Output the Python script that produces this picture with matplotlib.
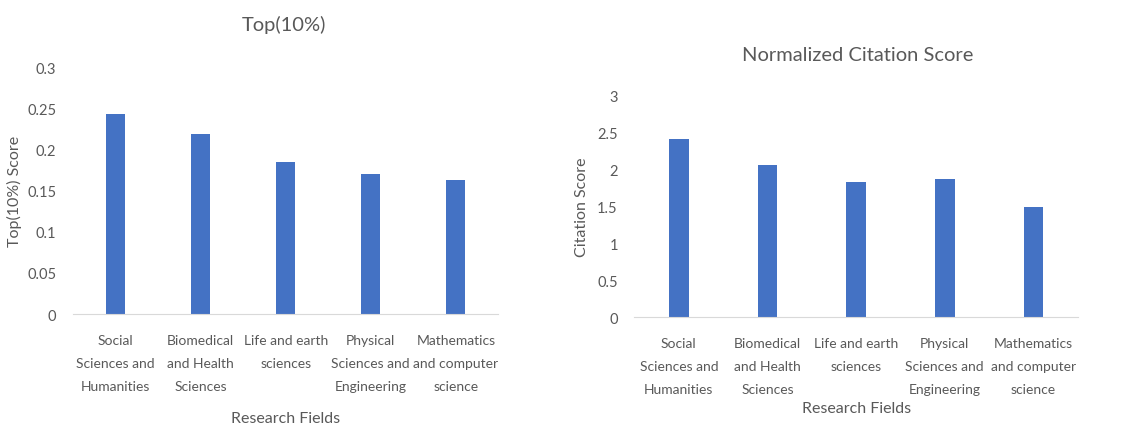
import matplotlib.pyplot as plt

plt.rcParams['font.family'] = ['Lato', 'DejaVu Sans']

fields = ["Social\nSciences and\nHumanities",
          "Biomedical\nand Health\nSciences",
          "Life and earth\nsciences",
          "Physical\nSciences and\nEngineering",
          "Mathematics\nand computer\nscience"]
top10 = [0.243, 0.219, 0.185, 0.170, 0.163]
citation = [2.41, 2.05, 1.82, 1.86, 1.49]

bar_color = '#4472C4'
text_color = '#595959'

fig = plt.figure(figsize=(11.25, 4.31), dpi=100)
ax1 = fig.add_axes([0.065, 0.269, 0.378, 0.573])
ax2 = fig.add_axes([0.564, 0.262, 0.394, 0.515])

def style(ax, values, ymax, step, ylabel, ypad, xpad):
    x = range(len(values))
    ax.bar(x, values, width=0.22, color=bar_color)
    ax.set_xlim(-0.5, len(values) - 0.5)
    ax.set_ylim(0, ymax)
    ticks = [round(i * step, 2) for i in range(int(round(ymax / step)) + 1)]
    ax.set_yticks(ticks)
    ax.set_yticklabels([('%g' % t) for t in ticks], color=text_color, fontsize=10.5)
    ax.set_xticks(list(x))
    ax.set_xticklabels(fields, color=text_color, fontsize=10, linespacing=2.1)
    ax.tick_params(length=0, pad=14)
    ax.tick_params(axis='y', pad=12)
    for s in ['top', 'right', 'left']:
        ax.spines[s].set_visible(False)
    ax.spines['bottom'].set_color('#d9d9d9')
    ax.set_ylabel(ylabel, color=text_color, fontsize=11.5, labelpad=ypad)
    ax.set_xlabel("Research Fields", color=text_color, fontsize=11.5, labelpad=xpad)

style(ax1, top10, 0.3, 0.05, "Top(10%) Score", 4, 14)
style(ax2, citation, 3, 0.5, "Citation Score", 6, 5)

fig.text(0.252, 0.942, "Top(10%)", ha='center', va='center', color=text_color, fontsize=14.5)
fig.text(0.762, 0.872, "Normalized Citation Score", ha='center', va='center', color=text_color, fontsize=14.5)

fig.savefig("out.png", dpi=100)
